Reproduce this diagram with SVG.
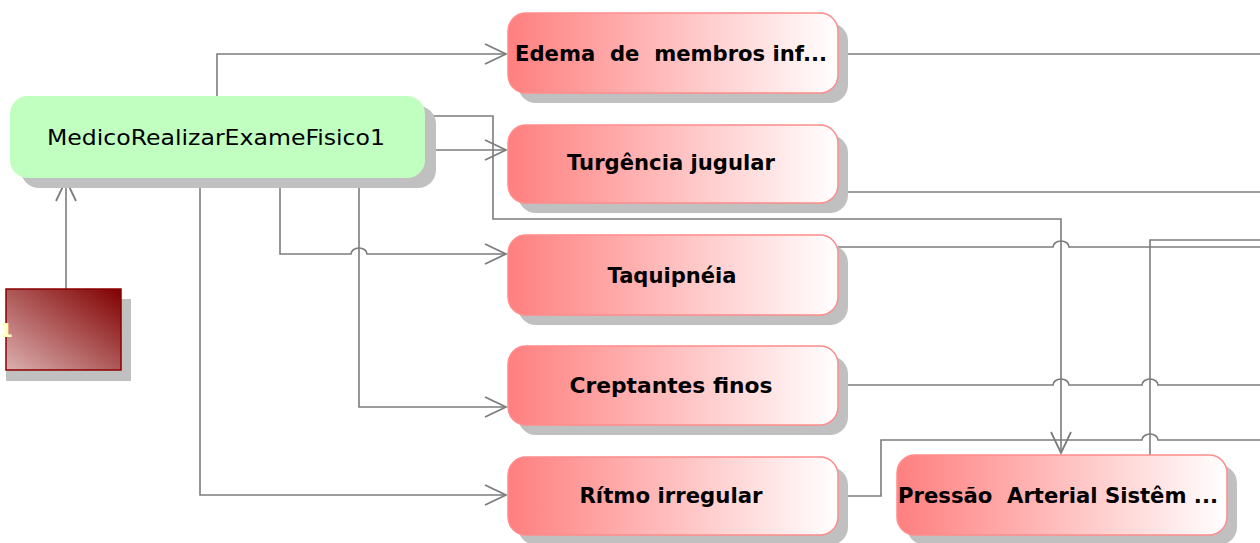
<svg xmlns="http://www.w3.org/2000/svg" width="1260" height="543" viewBox="0 0 1260 543">
<style>
.sh{fill:#c0c0c0}
.red{fill:url(#rg);stroke:#ff8c8c;stroke-width:1.5}
.grn{fill:#c0ffc0}
.lbl{font-family:"DejaVu Sans",Verdana,sans-serif;font-weight:bold;font-size:21px;fill:#000;text-anchor:middle}
.glbl{font-family:"DejaVu Sans",Verdana,sans-serif;font-size:21px;fill:#000;text-anchor:middle}
.c{fill:none;stroke:#7c7c7c;stroke-width:1.6}
</style>
<defs>
<linearGradient id="rg" x1="0" y1="0" x2="1" y2="0">
<stop offset="0" stop-color="#ff7f7f"/>
<stop offset="1" stop-color="#ffffff"/>
</linearGradient>
<linearGradient id="dg" x1="1" y1="0" x2="0" y2="1">
<stop offset="0" stop-color="#800000"/>
<stop offset="1" stop-color="#dcb0b0"/>
</linearGradient>
<marker id="ar" markerUnits="userSpaceOnUse" markerWidth="26" markerHeight="26" viewBox="-24 -12 26 24" refX="0" refY="0" orient="auto">
<path d="M-21,-10 L0,0 L-21,10" fill="none" stroke="#7c7c7c" stroke-width="1.8"/>
</marker>
</defs>
<rect width="1260" height="543" fill="#fff"/>

<g id="connectors">
<path class="c" d="M66,289 V180" marker-end="url(#ar)"/>
<path class="c" d="M217,96 V54 H506" marker-end="url(#ar)"/>
<path class="c" d="M425,150 H506" marker-end="url(#ar)"/>
<path class="c" d="M425,116 H493 V219 H1061 V453" marker-end="url(#ar)"/>
<path class="c" d="M280,178 V254 H351 A8 6 0 0 1 367 254 H506" marker-end="url(#ar)"/>
<path class="c" d="M359,178 V407 H506" marker-end="url(#ar)"/>
<path class="c" d="M200,178 V495 H506" marker-end="url(#ar)"/>
<path class="c" d="M838,54 H1260"/>
<path class="c" d="M838,192 H1260"/>
<path class="c" d="M838,247 H1053 A8 6 0 0 1 1069 247 H1260"/>
<path class="c" d="M838,385 H1053 A8 6 0 0 1 1069 385 H1142 A8 6 0 0 1 1158 385 H1260"/>
<path class="c" d="M838,496 H881 V440 H1142 A8 6 0 0 1 1158 440 H1260"/>
<path class="c" d="M1150,455 V240 H1260"/>
</g>

<g id="node-actor">
<rect class="sh" x="6" y="299" width="125" height="82"/>
<rect x="6" y="289" width="115" height="81" fill="url(#dg)" stroke="#8a0000" stroke-width="1.5"/>
<text x="13" y="337" font-family="DejaVu Sans,sans-serif" font-weight="bold" font-size="20" fill="#ffffc0" text-anchor="end">1</text>
</g>

<g id="node-medico">
<rect class="sh" x="21" y="106" width="415" height="82" rx="18"/>
<rect class="grn" x="10" y="96" width="415" height="82" rx="18"/>
<text class="glbl" x="216" y="145" textLength="338" lengthAdjust="spacingAndGlyphs">MedicoRealizarExameFisico1</text>
</g>

<g id="node-edema">
<rect class="sh" x="518" y="23" width="330" height="80" rx="18"/>
<rect class="red" x="508" y="13" width="330" height="80" rx="18"/>
<text class="lbl" x="671" y="61" textLength="312" lengthAdjust="spacingAndGlyphs" xml:space="preserve">Edema  de  membros inf...</text>
</g>

<g id="node-turgencia">
<rect class="sh" x="518" y="135" width="330" height="78" rx="18"/>
<rect class="red" x="508" y="125" width="330" height="78" rx="18"/>
<text class="lbl" x="671" y="170" textLength="208" lengthAdjust="spacingAndGlyphs">Turgência jugular</text>
</g>

<g id="node-taquipneia">
<rect class="sh" x="518" y="245" width="330" height="80" rx="18"/>
<rect class="red" x="508" y="235" width="330" height="80" rx="18"/>
<text class="lbl" x="672" y="283" textLength="129" lengthAdjust="spacingAndGlyphs">Taquipnéia</text>
</g>

<g id="node-creptantes">
<rect class="sh" x="518" y="356" width="330" height="79" rx="18"/>
<rect class="red" x="508" y="346" width="330" height="79" rx="18"/>
<text class="lbl" x="671" y="393" textLength="203" lengthAdjust="spacingAndGlyphs">Creptantes finos</text>
</g>

<g id="node-ritmo">
<rect class="sh" x="518" y="467" width="330" height="78" rx="18"/>
<rect class="red" x="508" y="457" width="330" height="78" rx="18"/>
<text class="lbl" x="671" y="503" textLength="183" lengthAdjust="spacingAndGlyphs">Rítmo irregular</text>
</g>

<g id="node-pressao">
<rect class="sh" x="907" y="465" width="330" height="80" rx="18"/>
<rect class="red" x="897" y="455" width="330" height="80" rx="18"/>
<text class="lbl" x="1058" y="503" textLength="320" lengthAdjust="spacingAndGlyphs" xml:space="preserve">Pressão  Arterial Sistêm ...</text>
</g>
</svg>
